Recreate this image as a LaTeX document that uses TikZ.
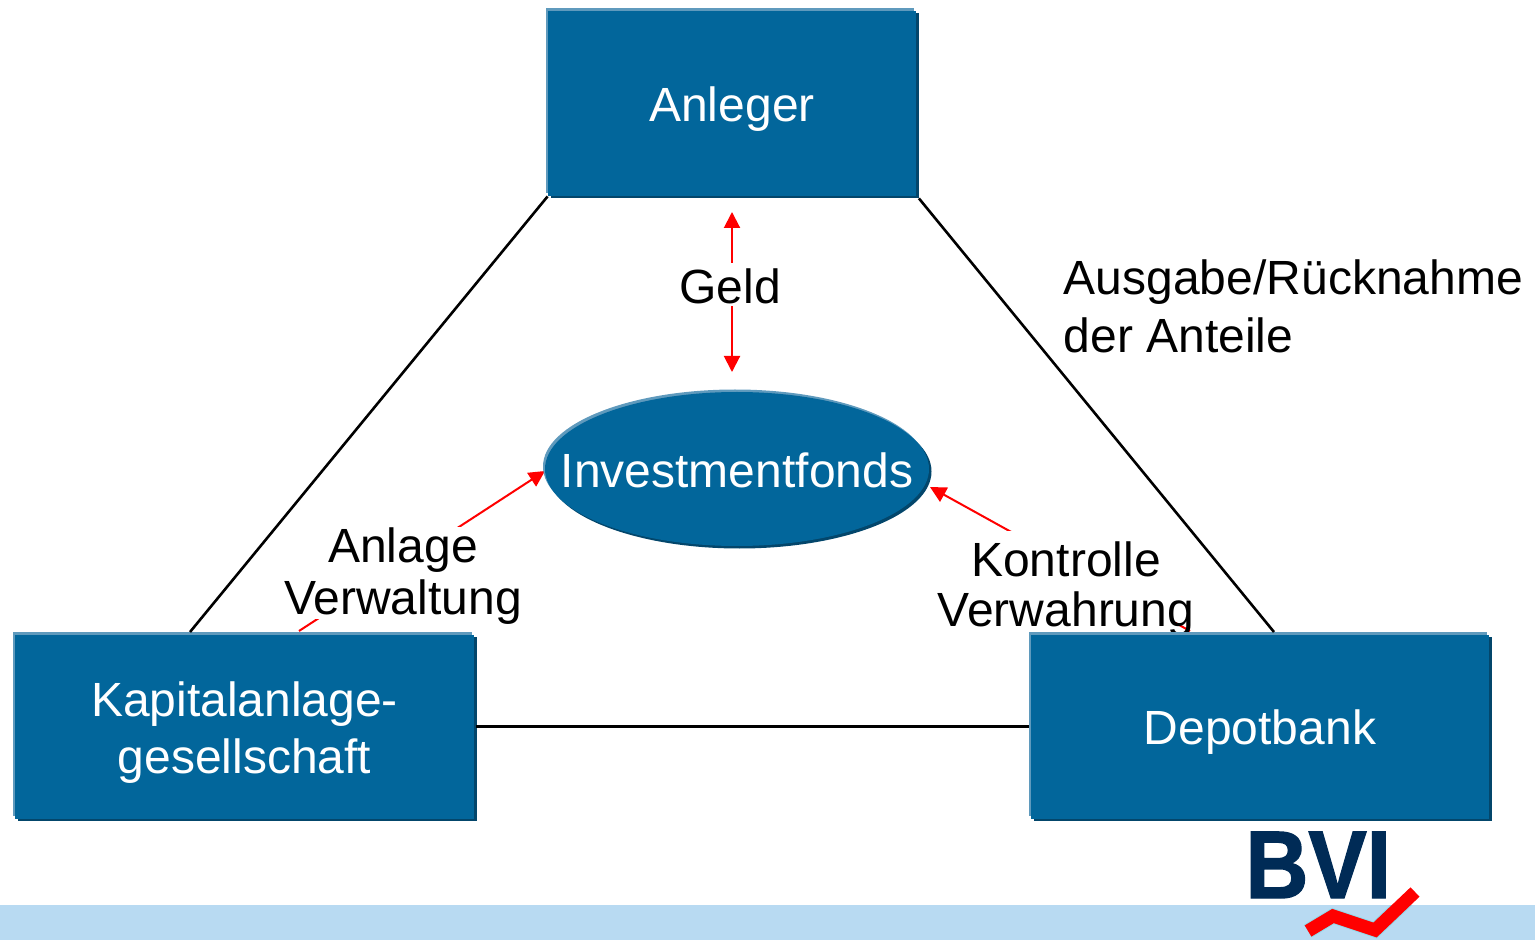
\documentclass[tikz,border=0pt]{standalone}
\usepackage{fontspec}
\setmainfont{Liberation Sans}
\newfontfamily\bvifont[BoldFeatures={FakeBold=1.5}]{Liberation Sans}
\usetikzlibrary{arrows.meta,shadows,shapes.geometric}
\definecolor{bluemain}{HTML}{02669B}
\definecolor{bluelight}{HTML}{5F9ABD}
\definecolor{bluedark}{HTML}{03466B}
\definecolor{bandblue}{HTML}{B8DAF2}
\definecolor{bvinavy}{HTML}{002B56}
\definecolor{halo}{HTML}{8FDCEC}
\newcommand\lowerby[2]{\raisebox{-#1}[0pt][0pt]{#2}}
\tikzset{
  party/.style={fill=bluemain,draw=none,text=white,inner sep=0pt,align=center,
    font=\fontsize{24}{28.5}\selectfont,
    general shadow={fill=bluedark,shadow xshift=1.25pt,shadow yshift=-1.25pt},
    general shadow={fill=bluelight,shadow xshift=-1pt,shadow yshift=1.25pt}},
  tie/.style={draw=black,line width=1.3pt},
  flow/.style={draw=red,line width=1pt,{Triangle[length=8pt,width=8pt]}-{Triangle[length=8pt,width=8pt]}},
  flowone/.style={draw=red,line width=1pt,-{Triangle[length=8pt,width=8pt]}},
  lbl/.style={inner sep=0pt,align=center,font=\fontsize{24}{25}\selectfont},
  lblw/.style={lbl,fill=white}
}
\begin{document}
\begin{tikzpicture}[x=0.5pt,y=-0.5pt]
\useasboundingbox (0,0) rectangle (1535,940);
\fill[bandblue] (0,905) rectangle (1535,940);
% red flows, partly hidden by the labels and boxes
\coordinate (geldtop) at (732,212);
\coordinate (geldbot) at (732,372);
\coordinate (anlagetip) at (545,471);
\coordinate (anlageend) at (299,631);
\coordinate (kontrtip) at (930,487);
\coordinate (kontrend) at (1190,631);
\draw[flow] (geldbot) -- (geldtop);
\draw[flowone] (anlageend) -- (anlagetip);
\draw[flowone] (kontrend) -- (kontrtip);
\node[lblw,minimum width=110pt,minimum height=21.5pt] (geld) at (730,284.5) {\lowerby{9.5pt}{Geld}};
\node[lblw,font=\fontsize{24}{26}\selectfont,minimum width=120pt,minimum height=46pt] (anlage) at (403,573) {\lowerby{7.5pt}{Anlage}\\\lowerby{7.5pt}{Verwaltung}};
\node[lblw,minimum width=130pt,minimum height=45.5pt] (kontrolle) at (1066,576.5) {\lowerby{12.5pt}{Kontrolle}\\\lowerby{12.5pt}{Verwahrung}};
% boxes
\node[party,minimum width=184pt,minimum height=92.5pt] (anl) at (732,103.5) {\lowerby{8.8pt}{Anleger}};
\node[party,minimum width=229.5pt,minimum height=92pt] (kag) at (244.5,726.5) {\lowerby{9pt}{Kapitalanlage-}\\\lowerby{9pt}{gesellschaft}};
\node[party,minimum width=229pt,minimum height=92pt] (dep) at (1260,726.5) {\lowerby{9pt}{Depotbank}};
\node[party,ellipse,minimum width=192pt,minimum height=77pt] (fonds) at (737,469) {\lowerby{9.2pt}{\makebox[0pt]{Investmentfonds}}};
% triangle
\coordinate (kagtop) at (190,632);
\coordinate (deptop) at (1274,632);
\draw[tie] (anl.south west) -- (kagtop);
\draw[tie] ([shift={(1.25pt,-1pt)}]anl.south east) -- (deptop);
\draw[tie,shorten >=1pt,shorten <=1pt] (kag.east) -- (dep.west);
\node[lbl,align=left,anchor=north west,font=\fontsize{24}{29}\selectfont] (ausgabe) at (1063.5,259) {Ausgabe/Rücknahme\\der Anteile};
% logo
\node[inner sep=0pt,anchor=base west,text=bvinavy,font=\bvifont\fontsize{48}{48}\bfseries\selectfont,xscale=0.91] (bvi) at (1245,898) {BVI};
\begin{scope}
\clip (0,905) rectangle (1535,940);
\draw[halo,line width=7.5pt,miter limit=10] (1308,931) -- (1333,916) -- (1375,930) -- (1415,892);
\end{scope}
\draw[red,line width=6.5pt,miter limit=10] (1308,931) -- (1333,916) -- (1375,930) -- (1415,892);
\end{tikzpicture}
\end{document}
